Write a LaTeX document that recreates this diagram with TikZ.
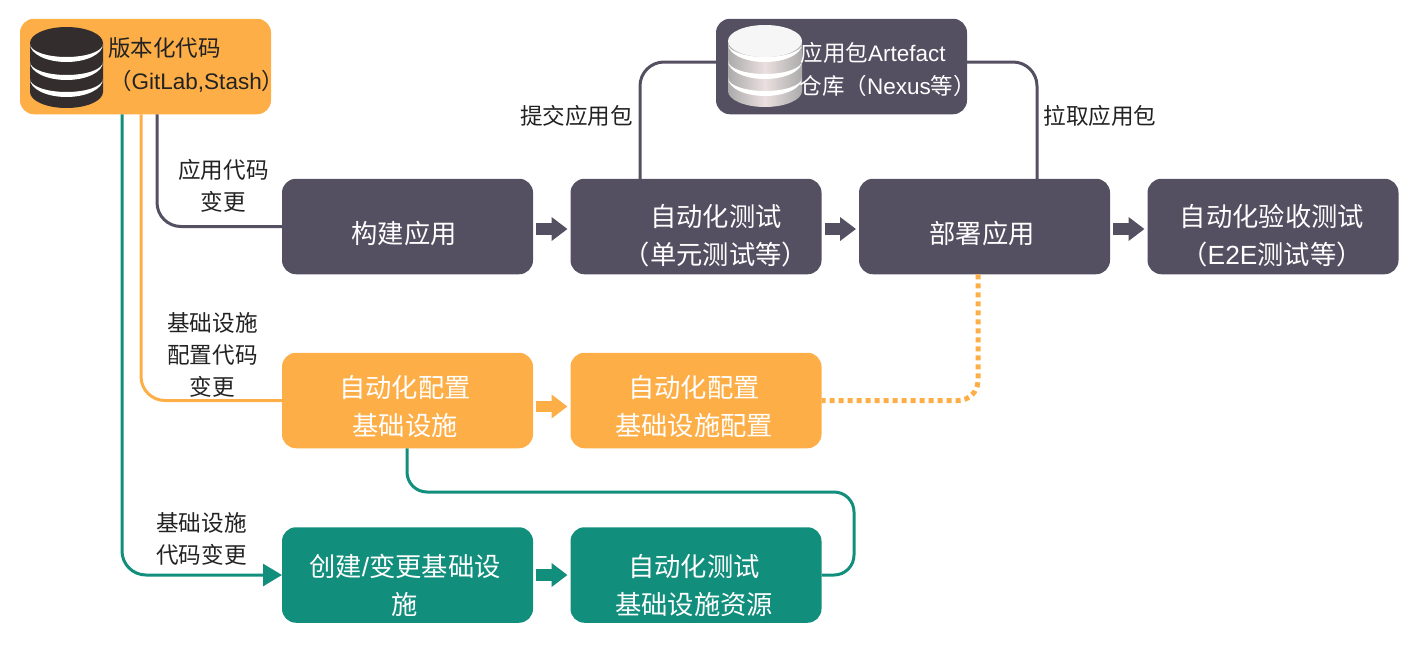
\documentclass[tikz,border=0pt]{standalone}
\usepackage{fontspec}
\setmainfont{Noto Sans CJK SC}
\newfontfamily\latn{Liberation Sans}
\usetikzlibrary{arrows.meta}
\definecolor{slategray}{HTML}{544F61}
\definecolor{amber}{HTML}{FDAE47}
\definecolor{teal}{HTML}{128E7C}
\definecolor{ink}{HTML}{222222}
\definecolor{dbdark}{HTML}{332D2D}
\definecolor{dbside}{HTML}{ABABAB}
\definecolor{dbmid}{HTML}{EBDFDF}
\tikzset{
  x=1pt,y=-1pt,
  card/.style={draw=none,rounded corners=14pt,minimum width=251pt,minimum height=95.5pt,inner sep=0pt,outer sep=0pt},
  whitelab/.style={text=white,inner sep=0pt,align=center,font=\fontsize{26.3}{38}\selectfont},
  sidelab/.style={text=ink,inner sep=0pt,align=center,font=\fontsize{22.6}{32}\selectfont},
  boxlab/.style={inner sep=0pt,anchor=west,font=\fontsize{22.5}{32}\selectfont},
  link/.style={line width=3pt,rounded corners=24pt},
  block/.style={line width=11.5pt,shorten <=3pt,shorten >=3pt,-{Triangle[length=16pt,width=23pt]}},
}
\begin{document}
\begin{tikzpicture}
\useasboundingbox (0,0) rectangle (1424,646);
\node[card,fill=amber] (src) at (145.5,66.5) {};
\node[card,fill=slategray] (art) at (841.5,66.5) {};
\node[card,fill=slategray] (build) at (407.5,226.5) {};
\node[card,fill=slategray] (test) at (696,226.5) {};
\node[card,fill=slategray] (deploy) at (984.5,226.5) {};
\node[card,fill=slategray] (accept) at (1273,226.5) {};
\node[card,fill=amber] (cfga) at (407.5,400.5) {};
\node[card,fill=amber] (cfgb) at (696,400.5) {};
\node[card,fill=teal] (create) at (407.5,575) {};
\node[card,fill=teal] (testb) at (696,575) {};
\coordinate (bend) at (854,492);
\draw[link,slategray] ([xshift=11.5pt]src.south) |- (build.west);
\draw[link,amber] ([xshift=-4.5pt]src.south) |- (cfga.west);
\draw[link,teal,-{Triangle[length=19pt,width=22pt]}] ([xshift=-23.5pt]src.south) |- (create.west);
\draw[link,slategray] ([xshift=-56pt]test.north) |- ([yshift=4.5pt]art.west);
\draw[link,slategray] ([xshift=52.5pt]deploy.north) |- ([yshift=4.5pt]art.east);
\draw[link,amber,line width=5pt,dash pattern=on 5pt off 4pt,rounded corners=20pt] ([xshift=-6.5pt]deploy.south) |- (cfgb.east);
\draw[link,teal,rounded corners=20pt] ([xshift=-0.5pt]cfga.south) |- (bend) |- (testb.east);
\draw[block,slategray] ([yshift=-2.5pt]build.east) -- ([yshift=-2.5pt]test.west);
\draw[block,slategray] ([yshift=-2.5pt]test.east) -- ([yshift=-2.5pt]deploy.west);
\draw[block,slategray] ([yshift=-2.5pt]deploy.east) -- ([yshift=-2.5pt]accept.west);
\draw[block,amber] ([yshift=-6pt]cfga.east) -- ([yshift=-6pt]cfgb.west);
\draw[block,teal] (create.east) -- (testb.west);
% source database icon
\fill[dbdark] (30,43) arc[start angle=180,end angle=360,x radius=36.5,y radius=16] -- (103,92) arc[start angle=0,end angle=180,x radius=36.5,y radius=16] -- cycle;
\foreach \yy in {44,62,79}{
  \fill[white] (30,\yy) arc[start angle=180,end angle=0,x radius=36.5,y radius=18] arc[start angle=0,end angle=180,x radius=36.5,y radius=13] -- cycle;
}
% artefact database icon
\shade[left color=dbside,right color=dbside,middle color=dbmid] (728,42) -- (802,42) -- (802,91) arc[start angle=0,end angle=180,x radius=37,y radius=16] -- cycle;
\foreach \yy in {44,61,78}{
  \fill[white] (728,\yy) arc[start angle=180,end angle=0,x radius=37,y radius=18] arc[start angle=0,end angle=180,x radius=37,y radius=13] -- cycle;
}
\fill[white!93!gray] (765,41) ellipse[x radius=37,y radius=16];
% box texts
\node[boxlab,text=ink] (srca) at (108,48) {版本化代码};
\node[boxlab,text=ink] (srcb) at (109,81) {（{\latn GitLab,Stash}）};
\node[boxlab,text=white] (arta) at (800.5,53) {应用包{\latn Artefact}};
\node[boxlab,text=white] (artb) at (799.5,86) {仓库（{\latn Nexus}等）};
\node[whitelab] (lbuild) at (404,233) {构建应用};
\node[whitelab] (ltest) at (716,236) {自动化测试\\（单元测试等）};
\node[whitelab] (ldeploy) at (982,233) {部署应用};
\node[whitelab] (laccept) at (1272,236) {自动化验收测试\\（{\latn E2E}测试等）};
\node[whitelab] (lcfga) at (405,407) {自动化配置\\基础设施};
\node[whitelab] (lcfgb) at (694,407) {自动化配置\\基础设施配置};
\node[whitelab] (lcreate) at (405,585.5) {创建{\latn /}变更基础设\\施};
\node[whitelab] (ltestb) at (694,586) {自动化测试\\基础设施资源};
% side labels
\node[sidelab] (l1) at (576.5,116) {提交应用包};
\node[sidelab] (l2) at (1100,116) {拉取应用包};
\node[sidelab] (l3) at (223.5,186) {应用代码\\变更};
\node[sidelab] (l4) at (212.5,355) {基础设施\\配置代码\\变更};
\node[sidelab] (l5) at (201.5,539) {基础设施\\代码变更};
\end{tikzpicture}
\end{document}
